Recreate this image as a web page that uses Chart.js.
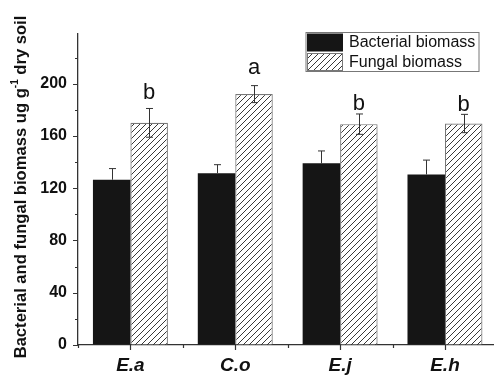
<!DOCTYPE html>
<html>
<head>
<meta charset="utf-8">
<script src="https://cdn.jsdelivr.net/npm/chart.js@4.4.1/dist/chart.umd.min.js"></script>
<style>
  html, body { margin: 0; padding: 0; overflow: hidden; background: #fff; }
  #wrap { width: 498px; height: 376px; }
</style>
</head>
<body>
<div id="wrap"><canvas id="chart" width="498" height="376"></canvas></div>
<script>
// values
let sites = ["E.a", "C.o", "E.j", "E.h"];
let bacterial = [126.5, 131.5, 139, 130.5];
let bacterialErr = [8.5, 6.5, 9.5, 11];
let fungal = [170, 192, 169, 169.5];
let fungalErr = [11, 6.5, 7.8, 7];
let letters = ["b", "a", "b", "b"];
let letterY = [188, 207.5, 179.5, 179];

// hatch pattern "////"
function makeHatch() {
    const c = document.createElement('canvas');
    c.width = 6; c.height = 6;
    const g = c.getContext('2d');
    g.fillStyle = '#fff';
    g.fillRect(0, 0, 6, 6);
    g.strokeStyle = '#222';
    g.lineWidth = 0.9;
    g.beginPath();
    g.moveTo(-1, 7); g.lineTo(7, -1);
    g.moveTo(-1, 1); g.lineTo(1, -1);
    g.moveTo(5, 7); g.lineTo(7, 5);
    g.stroke();
    return g.createPattern(c, 'repeat');
}
const hatch = makeHatch();

const extras = {
    id: 'extras',
    afterDatasetsDraw(chart) {
        const ctx = chart.ctx;
        const y = chart.scales.y, x = chart.scales.x;
        const area = chart.chartArea;
        ctx.save();

        // error bars (lower half of the bacterial ones is hidden by the black bar)
        const errs = [bacterialErr, fungalErr];
        const vals = [bacterial, fungal];
        ctx.strokeStyle = '#333';
        ctx.lineWidth = 1;
        [0, 1].forEach(d => {
            chart.getDatasetMeta(d).data.forEach((bar, i) => {
                const px = Math.round(bar.x) + 0.5;
                const top = y.getPixelForValue(vals[d][i] + errs[d][i]);
                const bot = d === 0 ? y.getPixelForValue(vals[d][i]) : y.getPixelForValue(vals[d][i] - errs[d][i]);
                ctx.beginPath();
                ctx.moveTo(px, top); ctx.lineTo(px, bot);
                ctx.moveTo(px - 3.5, top); ctx.lineTo(px + 3.5, top);
                if (d === 1) { ctx.moveTo(px - 3.5, bot); ctx.lineTo(px + 3.5, bot); }
                ctx.stroke();
            });
        });

        // significance letters
        ctx.fillStyle = '#111';
        ctx.font = '22px "Liberation Sans", Arial, sans-serif';
        ctx.textAlign = 'center';
        ctx.textBaseline = 'alphabetic';
        chart.getDatasetMeta(1).data.forEach((bar, i) => {
            ctx.fillText(letters[i], bar.x, y.getPixelForValue(letterY[i]));
        });

        // axis ticks
        ctx.strokeStyle = '#333';
        ctx.lineWidth = 1.2;
        ctx.beginPath();
        for (let v = 0; v <= 220; v += 20) {
            const py = Math.round(y.getPixelForValue(v)) + 0.5;
            const len = v % 40 === 0 ? 5 : 3;
            ctx.moveTo(area.left, py); ctx.lineTo(area.left - len, py);
        }
        for (let i = 0; i < sites.length; i++) {
            const cx = Math.round(x.getPixelForValue(i)) + 0.5;
            ctx.moveTo(cx, area.bottom); ctx.lineTo(cx, area.bottom + 5);
            const bx = Math.round(x.getPixelForValue(i - 0.5)) + 0.5;
            ctx.moveTo(bx, area.bottom); ctx.lineTo(bx, area.bottom + 3);
        }
        ctx.stroke();

        // y axis title with superscript
        const main = 'Bacterial and fungal biomass ug g';
        const sup = '-1';
        const rest = ' dry soil';
        const fMain = 'bold 16.6px "Liberation Sans", Arial, sans-serif';
        const fSup = 'bold 10px "Liberation Sans", Arial, sans-serif';
        ctx.font = fMain;
        const w1 = ctx.measureText(main).width;
        const w3 = ctx.measureText(rest).width;
        ctx.font = fSup;
        const w2 = ctx.measureText(sup).width;
        const total = w1 + w2 + w3;
        ctx.translate(26, 187);
        ctx.rotate(-Math.PI / 2);
        ctx.textAlign = 'left';
        let sx = -total / 2;
        ctx.font = fMain;
        ctx.fillText(main, sx, 0);
        sx += w1;
        ctx.font = fSup;
        ctx.fillText(sup, sx, -8);
        sx += w2;
        ctx.font = fMain;
        ctx.fillText(rest, sx, 0);
        ctx.restore();

        // legend box
        ctx.save();
        ctx.fillStyle = '#fff';
        ctx.fillRect(306, 32.5, 173, 39);
        ctx.strokeStyle = '#777';
        ctx.lineWidth = 1;
        ctx.strokeRect(306, 32.5, 173, 39);
        ctx.fillStyle = '#151515';
        ctx.fillRect(307, 33.5, 36, 18);
        ctx.fillStyle = hatch;
        ctx.fillRect(307, 53, 36, 18);
        ctx.strokeStyle = '#777';
        ctx.strokeRect(307.5, 53.5, 35, 17);
        ctx.fillStyle = '#111';
        ctx.font = '16px "Liberation Sans", Arial, sans-serif';
        ctx.textBaseline = 'middle';
        ctx.textAlign = 'left';
        ctx.fillText('Bacterial biomass', 349, 43);
        ctx.fillText('Fungal biomass', 349, 62.5);
        ctx.restore();
    }
};

new Chart(document.getElementById('chart'), {
    type: 'bar',
    data: {
        labels: sites,
        datasets: [{
            label: 'Bacterial biomass',
            data: bacterial,
            backgroundColor: '#151515',
            borderWidth: 0
        }, {
            label: 'Fungal biomass',
            data: fungal,
            backgroundColor: hatch,
            borderColor: '#777',
            borderWidth: 1.2
        }]
    },
    options: {
        responsive: false,
        animation: false,
        layout: { padding: { top: 34, right: 0.6, left: 0, bottom: 0 } },
        plugins: { legend: { display: false }, tooltip: { enabled: false } },
        datasets: { bar: { categoryPercentage: 0.715, barPercentage: 1 } },
        scales: {
            x: {
                grid: { display: true, drawOnChartArea: false, drawTicks: false },
                border: { display: true, color: '#333', width: 1.3 },
                ticks: {
                    color: '#111',
                    padding: 9,
                    font: { family: '"Liberation Sans", Arial, sans-serif', size: 19, weight: 'bold', style: 'italic' }
                },
                afterFit(scale) { scale.height = 31; }
            },
            y: {
                min: 0,
                max: 238,
                grid: { display: true, drawOnChartArea: false, drawTicks: false },
                border: { display: true, color: '#333', width: 1.3 },
                ticks: {
                    stepSize: 20,
                    color: '#111',
                    padding: 11,
                    font: { family: '"Liberation Sans", Arial, sans-serif', size: 16, weight: 'bold' },
                    callback: v => (v % 40 === 0 ? v : '')
                },
                afterFit(scale) { scale.width = 78; }
            }
        }
    },
    plugins: [extras]
});
</script>
</body>
</html>
